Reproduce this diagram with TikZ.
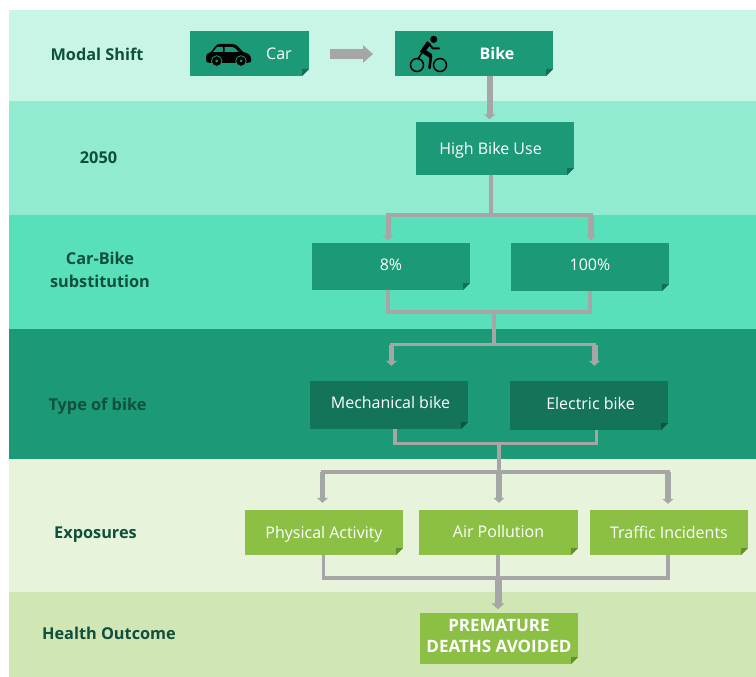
\documentclass[tikz,border=0pt]{standalone}
\usepackage{fontspec}
\setmainfont{Open Sans}
\usetikzlibrary{arrows.meta}

\definecolor{bandA}{HTML}{C8F5E6}
\definecolor{bandB}{HTML}{90EBD0}
\definecolor{bandC}{HTML}{58E0BB}
\definecolor{bandD}{HTML}{1C9A78}
\definecolor{bandE}{HTML}{E7F3DA}
\definecolor{bandF}{HTML}{D0E6B5}
\definecolor{boxteal}{HTML}{1C9A78}
\definecolor{boxdark}{HTML}{14745A}
\definecolor{boxgreen}{HTML}{8BC045}
\definecolor{foldteal}{HTML}{127058}
\definecolor{folddark}{HTML}{0E5443}
\definecolor{foldgreen}{HTML}{648F2C}
\definecolor{rowtext}{HTML}{0F4F3C}
\definecolor{connector}{HTML}{A6A6A6}

\tikzset{
	tabbox/.style n args={3}{fill=#1, text=white, inner sep=0pt, align=center, text height=12pt, text depth=0pt, font=\fontsize{16}{19}\selectfont,
		path picture={
			\fill[#3] (path picture bounding box.south east) -- ++(-7pt,0pt) -- ++(7pt,7pt) -- cycle;
			\fill[#2] ([xshift=-7pt]path picture bounding box.south east) -- ++(0pt,7pt) -- ++(7pt,0pt) -- cycle;
		}},
	rowlabel/.style={text=rowtext, align=center, font=\fontsize{16.3}{23}\selectfont\bfseries},
	bar/.style={draw=connector, line width=3.5pt},
	drop/.style={draw=connector, line width=#1, shorten >=2.5pt, -{Triangle[width=11pt,length=5pt]}},
	drop/.default=5pt
}

\begin{document}
\begin{tikzpicture}[x=1pt, y=-1pt]
		\useasboundingbox (0,0) rectangle (756,677);

		% Draw the bands
		\fill[bandA] (9,10) rectangle (756,101);
		\fill[bandB] (9,101) rectangle (756,215);
		\fill[bandC] (9,215) rectangle (756,329);
		\fill[bandD] (9,329) rectangle (756,459);
		\fill[bandE] (9,459) rectangle (756,592);
		\fill[bandF] (9,592) rectangle (756,677);

		% Row labels
		\node[rowlabel] (rowshift) at (97,54) {Modal Shift};
		\node[rowlabel] (rowyear) at (98.5,157.5) {2050};
		\node[rowlabel] (rowsub) at (100,269.5) {Car-Bike\\substitution};
		\node[rowlabel] (rowtype) at (97.5,406.5) {Type of bike};
		\node[rowlabel] (rowexp) at (95.5,534.5) {Exposures};
		\node[rowlabel] (rowhealth) at (109,633) {Health Outcome};

		% Boxes
		\node[tabbox={boxteal}{foldteal}{bandA}, minimum width=119pt, minimum height=45pt] (car) at (249.5,53.5) {\hspace*{59pt}Car};
		\node[tabbox={boxteal}{foldteal}{bandA}, minimum width=158pt, minimum height=45pt] (bike) at (474,53.5) {\hspace*{46pt}\textbf{Bike}};
		\node[tabbox={boxteal}{foldteal}{bandB}, minimum width=158pt, minimum height=53pt] (highuse) at (495,148.5) {High Bike Use\hspace*{9pt}};
		\node[tabbox={boxteal}{foldteal}{bandC}, minimum width=158pt, minimum height=47pt] (eight) at (391,266.5) {\raisebox{2pt}{8\%}};
		\node[tabbox={boxteal}{foldteal}{bandC}, minimum width=158pt, minimum height=48pt] (hundred) at (590,267) {\raisebox{2.5pt}{100\%}};
		\node[tabbox={boxdark}{folddark}{bandD}, minimum width=158pt, minimum height=48pt] (mech) at (389,405) {\hspace*{3pt}\raisebox{3pt}{Mechanical bike}};
		\node[tabbox={boxdark}{folddark}{bandD}, minimum width=158pt, minimum height=49pt] (electric) at (589,405.5) {\hspace*{3pt}\raisebox{2pt}{Electric bike}};
		\node[tabbox={boxgreen}{foldgreen}{bandE}, minimum width=158pt, minimum height=45pt] (physical) at (324,532.5) {Physical Activity};
		\node[tabbox={boxgreen}{foldgreen}{bandE}, minimum width=159pt, minimum height=45pt] (air) at (498.5,532.5) {\raisebox{1.5pt}{Air Pollution}};
		\node[tabbox={boxgreen}{foldgreen}{bandE}, minimum width=158pt, minimum height=45pt] (traffic) at (669,532.5) {Traffic Incidents};
		\node[tabbox={boxgreen}{foldgreen}{bandF}, minimum width=158pt, minimum height=51pt, text height=27pt, text depth=0pt, font=\fontsize{17}{20.5}\selectfont] (deaths) at (499,638.5) {\textbf{PREMATURE}\\\textbf{DEATHS AVOIDED}};

		% Draw the car
		\fill[black] (206,58) .. controls (206,54) and (208,52.5) .. (211,52) -- (215.5,46) .. controls (216.5,44.8) and (218,44) .. (220,44) -- (232,44) .. controls (235,44) and (236.5,45) .. (238.5,47) -- (243,52) .. controls (248,53) and (251,55) .. (251,59) -- (251,62) -- (247,63) -- (210,63) -- (206.5,62) -- cycle;
		\fill[boxteal] (213,52) -- (216.5,47.5) .. controls (217,47) and (218,46.8) .. (219,46.8) -- (222.8,46.8) -- (222.8,52) -- cycle (224.5,46.8) -- (231.5,46.8) .. controls (233,46.8) and (234,47) .. (235,48) -- (238.5,52) -- (224.5,52) -- cycle;
		\filldraw[fill=black, draw=boxteal, line width=0.8pt] (216.7,61) circle (5.3pt);
		\filldraw[fill=black, draw=boxteal, line width=0.8pt] (241,61) circle (5.3pt);
		\fill[boxteal] (216.7,61) circle (1.5pt);
		\fill[boxteal] (241,61) circle (1.5pt);

		% Draw the cyclist
		\draw[black, line width=1.5pt] (417,65) circle (6.5pt);
		\draw[black, line width=1.5pt] (440,65) circle (6.5pt);
		\fill[black] (433.7,39.3) circle (3.6pt);
		\draw[black, line width=4.5pt] (429,42.5) -- (423,51) -- (431,56);
		\draw[black, line width=2.6pt, line cap=round] (431,56) -- (429.5,68);
		\draw[black, line width=2pt, line cap=round] (429,44) -- (433,48.5) -- (439,48.5);
		\draw[black, line width=1.6pt, line cap=round] (423,51) -- (418,59);

		% Modal shift arrow
		\coordinate (shiftA) at (330,54);
		\coordinate (shiftB) at (373,54);
		\draw[drop=10pt, shorten >=0pt, -{Triangle[width=17pt,length=10pt]}] (shiftA) -- (shiftB);

		% Bike to high use
		\coordinate (dropA) at (489.5,80);
		\draw[drop=6pt] (bike.south -| dropA) -- (highuse.north -| dropA);

		% Split over the substitution row
		\coordinate (splitA) at (491,215);
		\draw[draw=connector, line width=4pt] (highuse.south -| splitA) -- (splitA);
		\coordinate (splitAl) at (388,215);
		\coordinate (splitAr) at (591,215);
		\draw[bar] ([xshift=-1.75pt]splitAl) -- ([xshift=1.75pt]splitAr);
		\draw[drop] (splitAl) -- (eight.north -| splitAl);
		\draw[drop=6pt] (splitAr) -- (hundred.north -| splitAr);

		% Merge and split over the bike row
		\coordinate (mergeB) at (494,312);
		\coordinate (splitB) at (494,344.5);
		\draw[bar] (eight.south -| 388,0) |- (mergeB);
		\draw[bar] (hundred.south -| 590,0) |- (mergeB);
		\draw[draw=connector, line width=4pt] (mergeB) -- (splitB);
		\coordinate (splitBl) at (391.5,344.5);
		\coordinate (splitBr) at (594.5,344.5);
		\draw[bar] ([xshift=-1.75pt]splitBl) -- ([xshift=1.75pt]splitBr);
		\draw[drop=4.5pt, shorten >=15pt] (splitBl) -- (mech.north -| splitBl);
		\draw[drop=6pt, shorten >=15pt] (splitBr) -- (electric.north -| splitBr);

		% Merge and split over the exposures row
		\coordinate (mergeC) at (499,443.5);
		\coordinate (splitC) at (499,472);
		\draw[bar] (mech.south -| 395,0) |- (mergeC);
		\draw[bar] (electric.south -| 596.5,0) |- (mergeC);
		\draw[draw=connector, line width=4pt] (mergeC) -- (splitC);
		\coordinate (splitCl) at (322.5,472);
		\coordinate (splitCr) at (668,472);
		\draw[bar] ([xshift=-1.75pt]splitCl) -- ([xshift=1.75pt]splitCr);
		\draw[drop=4.5pt, shorten >=7pt] (splitCl) -- (physical.north -| splitCl);
		\draw[drop=6pt, shorten >=7pt] (splitC) -- (air.north -| splitC);
		\draw[drop=6pt, shorten >=6pt] (splitCr) -- (traffic.north -| splitCr);

		% Merge into the outcome
		\coordinate (mergeD) at (498,578);
		\draw[bar] (physical.south -| 323.5,0) |- (mergeD);
		\draw[bar] (traffic.south -| 668,0) |- (mergeD);
		\draw[draw=connector, line width=3.5pt] (air.south -| mergeD) -- (mergeD);
		\draw[drop=7pt, shorten >=3.5pt, -{Triangle[width=13pt,length=6pt]}] (mergeD) -- (deaths.north -| mergeD);

\end{tikzpicture}
\end{document}
